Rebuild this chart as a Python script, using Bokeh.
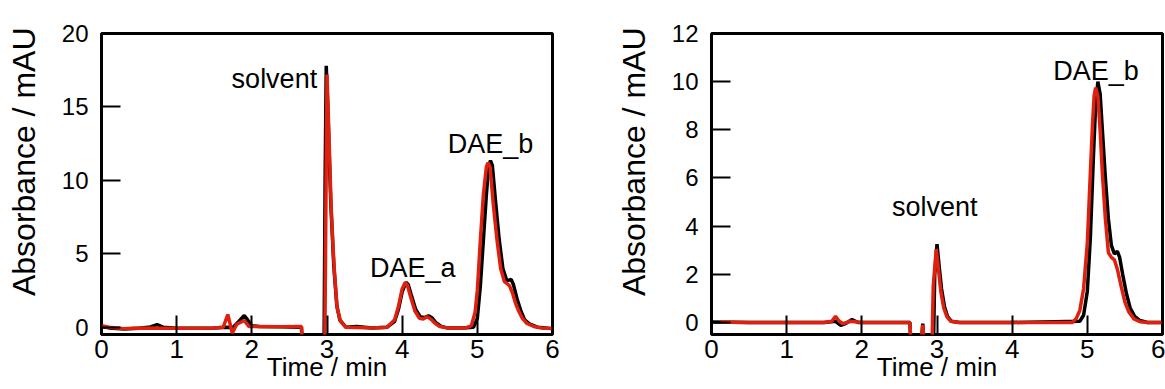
from bokeh.plotting import figure
from bokeh.models import Label, FixedTicker
from bokeh.layouts import row
from bokeh.embed import file_html
from bokeh.resources import INLINE

# ---------------- data: left panel ----------------
left_black_t = [0.00, 0.10, 0.30, 0.50, 0.65, 0.74, 0.82, 1.00, 1.30, 1.50, 1.65, 1.75, 1.82, 1.90, 1.95, 2.00,
                2.10, 2.40, 2.60, 2.66, 2.68, 2.96, 2.975, 2.99, 3.01, 3.05, 3.09, 3.13, 3.17, 3.25, 3.40,
                3.60, 3.80, 3.90, 3.95, 4.00, 4.05, 4.08, 4.12, 4.18, 4.24, 4.30, 4.35, 4.40, 4.45, 4.52,
                4.60, 4.80, 4.95, 5.00, 5.04, 5.08, 5.12, 5.15, 5.175, 5.20, 5.24, 5.29, 5.34, 5.39, 5.42,
                5.45, 5.48, 5.53, 5.58, 5.63, 5.70, 5.80, 6.00]
left_black_a = [0.05, -0.05, -0.12, -0.08, 0.02, 0.17, 0.00, -0.08, -0.08, -0.05, 0.00, -0.02, 0.35, 0.80, 0.45, 0.10,
                0.05, 0.02, 0.00, 0.00, -2.00, -2.00, 10.0, 17.8, 15.0, 8.5, 4.2, 1.5, 0.5, 0.00, 0.05,
                -0.05, 0.00, 0.40, 1.20, 2.40, 3.05, 2.90, 2.20, 1.20, 0.72, 0.65, 0.78, 0.62, 0.30, 0.05,
                -0.05, -0.05, 0.00, 0.60, 2.80, 5.90, 9.00, 10.9, 11.35, 11.0, 8.70, 6.00, 4.00, 3.20, 3.20,
                3.25, 2.90, 1.90, 1.10, 0.50, 0.20, 0.00, -0.10]

left_red_t = [0.00, 0.10, 0.30, 0.50, 0.80, 1.00, 1.30, 1.50, 1.62, 1.68, 1.74, 1.80, 1.90, 1.96, 2.00, 2.40,
              2.66, 2.68, 2.97, 2.985, 3.00, 3.02, 3.055, 3.08, 3.10, 3.135, 3.18, 3.25, 3.40, 3.60,
              3.80, 3.90, 3.95, 4.00, 4.04, 4.07, 4.11, 4.17, 4.23, 4.28, 4.33, 4.38, 4.44, 4.50, 4.60,
              4.80, 4.85, 4.92, 4.97, 5.00, 5.04, 5.08, 5.12, 5.14, 5.17, 5.21, 5.26, 5.31, 5.36, 5.40,
              5.43, 5.47, 5.51, 5.55, 5.60, 5.66, 5.75, 5.85, 6.00]
left_red_a = [0.10, 0.00, -0.10, -0.05, -0.08, -0.08, -0.08, -0.05, 0.00, 0.86, -0.40, 0.20, 0.45, 0.05, 0.05, 0.03,
              0.05, -2.00, -2.00, 8.0, 17.2, 14.0, 8.2, 5.5, 3.7, 1.3, 0.4, 0.00, -0.02, -0.05,
              0.00, 0.50, 1.40, 2.60, 3.05, 2.85, 2.10, 1.10, 0.60, 0.55, 0.72, 0.55, 0.25, 0.05, -0.05,
              -0.05, -0.05, 0.10, 1.00, 2.50, 5.90, 9.00, 10.9, 11.2, 10.9, 8.50, 6.00, 4.00, 3.10, 2.95,
              2.80, 2.30, 1.60, 1.10, 0.60, 0.25, 0.05, -0.05, -0.10]

# ---------------- data: right panel ----------------
right_black_t = [0.00, 0.50, 1.00, 1.50, 1.65, 1.72, 1.78, 1.87, 1.95, 2.40, 2.64, 2.66, 2.78, 2.81, 2.84, 2.95,
                 2.97, 3.00, 3.03, 3.06, 3.10, 3.14, 3.19, 3.30, 4.00, 4.90, 4.95, 5.00, 5.04, 5.08, 5.11,
                 5.14, 5.17, 5.20, 5.24, 5.28, 5.32, 5.36, 5.40, 5.43, 5.47, 5.52, 5.57, 5.63, 5.70, 5.80, 6.00]
right_black_a = [0.02, 0.00, 0.00, 0.00, 0.05, -0.12, -0.05, 0.12, 0.00, 0.00, 0.00, -1.50, -1.50, -0.05, -1.50, -1.50,
                 2.00, 3.25, 2.30, 1.40, 0.65, 0.25, 0.05, 0.00, 0.00, 0.05, 0.30, 1.30, 3.50, 6.80, 9.00,
                 10.0, 9.50, 8.00, 6.00, 4.30, 3.20, 2.85, 2.95, 2.70, 2.00, 1.20, 0.60, 0.25, 0.08, 0.00, 0.00]

right_red_t = [0.12, 0.50, 1.00, 1.50, 1.60, 1.65, 1.70, 1.75, 1.85, 2.00, 2.40, 2.64, 2.66, 2.77, 2.81, 2.85,
               2.93, 2.95, 2.99, 3.02, 3.05, 3.09, 3.13, 3.18, 3.30, 4.00, 4.80, 4.85, 4.90, 4.95, 5.00,
               5.04, 5.07, 5.09, 5.11, 5.14, 5.17, 5.20, 5.24, 5.28, 5.32, 5.36, 5.40, 5.45, 5.50, 5.55,
               5.62, 5.70, 5.80, 6.00]
right_red_a = [0.02, 0.00, 0.00, 0.00, 0.05, 0.25, 0.05, -0.05, 0.05, 0.00, 0.00, 0.00, -1.50, -1.50, -0.10, -1.50,
               -1.50, 1.50, 3.05, 2.20, 1.30, 0.60, 0.25, 0.05, 0.00, 0.00, 0.00, 0.15, 0.50, 1.40, 3.30,
               6.20, 8.30, 9.40, 9.75, 9.40, 8.00, 6.20, 4.30, 2.90, 2.70, 2.60, 2.20, 1.50, 0.85, 0.45,
               0.15, 0.03, 0.00, 0.00]

x_ticks = [0, 1, 2, 3, 4, 5, 6]
left_y_ticks = [0, 5, 10, 15, 20]
right_y_ticks = [0, 2, 4, 6, 8, 10, 12]

x_title = "Time / min"
y_title = "Absorbance / mAU"

left_notes = [("solvent", 2.30, 16.9), ("DAE_a", 4.14, 4.0), ("DAE_b", 5.175, 12.5)]
right_notes = [("solvent", 2.97, 4.8), ("DAE_b", 5.115, 10.45)]

FONT = "Liberation Sans"
NB = "\u00a0" * 5   # leading no-break spaces: lift the y title a little, as in the original


def make_panel(width, y_max, y_ticks, bt, ba, rt, ra, notes, border_left, border_right):
    p = figure(width=width, height=389, x_range=(0, 6), y_range=(-0.5, y_max),
               output_backend="svg", toolbar_location=None,
               min_border_left=border_left, min_border_right=border_right,
               min_border_top=33, min_border_bottom=55)
    p.grid.visible = False
    p.outline_line_color = "black"
    p.outline_line_width = 3
    p.outline_line_alpha = 1
    p.background_fill_color = "white"
    p.border_fill_color = "white"

    for ax in (p.xaxis[0], p.yaxis[0]):
        ax.axis_line_color = None
        ax.major_tick_in = 19
        ax.major_tick_out = 0
        ax.minor_tick_in = 0
        ax.minor_tick_out = 0
        ax.major_tick_line_width = 2
        ax.major_tick_line_color = "black"
        ax.major_label_text_font = FONT
        ax.major_label_text_color = "black"
        ax.axis_label_text_font = FONT
        ax.axis_label_text_font_style = "normal"
        ax.axis_label_text_color = "black"

    p.xaxis.ticker = FixedTicker(ticks=x_ticks)
    p.yaxis.ticker = FixedTicker(ticks=y_ticks)
    p.xaxis.major_label_text_font_size = "26px"
    p.yaxis.major_label_text_font_size = "24px"
    p.xaxis.major_label_standoff = 5
    p.yaxis.major_label_standoff = 13

    p.yaxis.axis_label = NB + y_title
    p.yaxis.axis_label_text_font_size = "32px"
    p.yaxis.axis_label_standoff = 17

    p.xaxis.axis_label = x_title
    p.xaxis.axis_label_text_font_size = "26px"
    p.xaxis.axis_label_standoff = -9

    p.line(bt, ba, line_color="black", line_width=3.5)
    p.line(rt, ra, line_color="#e0200f", line_width=3.5)

    for txt, x, y in notes:
        p.add_layout(Label(x=x, y=y, text=txt, text_font=FONT, text_font_size="27px",
                           text_align="center", text_baseline="alphabetic", text_color="black"))
    return p


p1 = make_panel(582, 20, left_y_ticks, left_black_t, left_black_a, left_red_t, left_red_a,
                left_notes, 101, 30)
p2 = make_panel(583, 12, right_y_ticks, right_black_t, right_black_a, right_red_t, right_red_a,
                right_notes, 129, 3)

layout = row(p1, p2)
open("out.html", "w").write(file_html(layout, INLINE))
